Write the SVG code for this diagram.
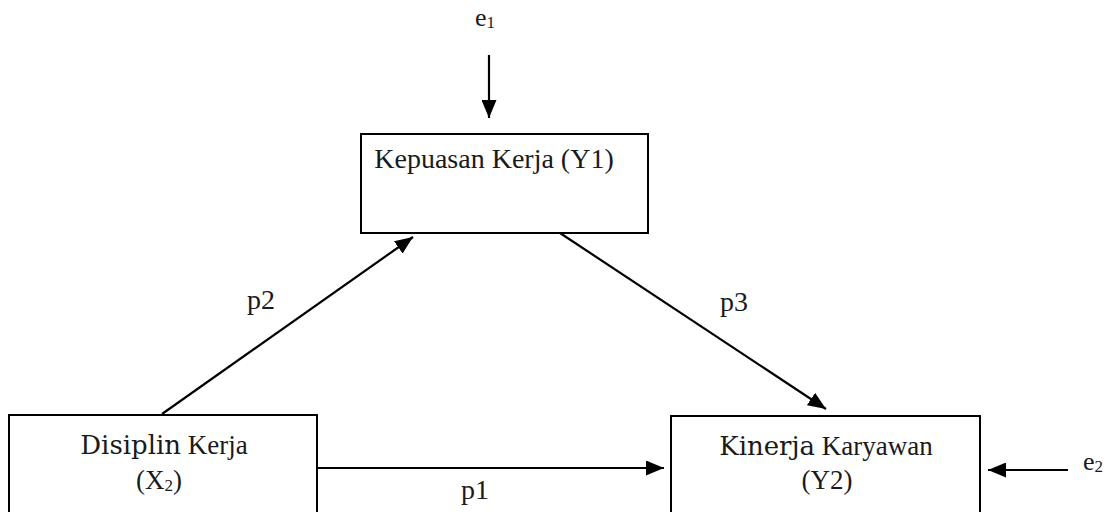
<svg xmlns="http://www.w3.org/2000/svg" width="1108" height="512" viewBox="0 0 1108 512">
<style>
.box{fill:#fff;stroke:#000;stroke-width:2}
.t{font-family:"Liberation Serif","Times New Roman",serif;font-size:27px;fill:#1a1a1a}
.big{font-family:"DejaVu Serif","Liberation Serif",serif;font-size:26px;fill:#1a1a1a}
.lbl{font-family:"Liberation Serif","Times New Roman",serif;font-size:28px;fill:#1a1a1a}
.sub{font-size:17px}
.c{stroke:#000;stroke-width:2.2;fill:none;marker-end:url(#ah)}
</style>
<defs>
<marker id="ah" markerUnits="userSpaceOnUse" markerWidth="18" markerHeight="15" refX="18" refY="7.5" orient="auto">
<path d="M0,0 L18,7.5 L0,15 z" fill="#000"/>
</marker>
</defs>
<g id="connectors">
<line class="c" x1="489" y1="55" x2="489" y2="118"/>
<line class="c" x1="162" y1="414" x2="413" y2="237"/>
<line class="c" x1="560" y1="233" x2="826" y2="409"/>
<line class="c" x1="317" y1="468" x2="664" y2="468"/>
<line class="c" x1="1068" y1="470" x2="988" y2="470"/>
<text class="lbl" x="247" y="309">p2</text>
<text class="lbl" x="720" y="311">p3</text>
<text class="lbl" x="461" y="499">p1</text>
</g>
<g id="e1">
<text class="lbl" x="475" y="26" style="font-size:26px">e<tspan class="sub" dy="2">1</tspan></text>
</g>
<g id="e2">
<text class="lbl" x="1083" y="470" style="font-size:26px">e<tspan class="sub" dy="2">2</tspan></text>
</g>
<g id="kepuasan">
<rect class="box" x="361" y="134" width="287" height="99"/>
<text class="t" x="494" y="168" text-anchor="middle" style="font-size:28px">Kepuasan Kerja (Y1)</text>
</g>
<g id="disiplin">
<rect class="box" x="9" y="415" width="308" height="110"/>
<text x="164" y="454" text-anchor="middle"><tspan class="big">Disiplin</tspan><tspan class="t"> Kerja</tspan></text>
<text class="t" x="159" y="489" text-anchor="middle">(X<tspan class="sub" dy="2">2</tspan><tspan dy="-2">)</tspan></text>
</g>
<g id="kinerja">
<rect class="box" x="671" y="416" width="309" height="110"/>
<text x="826" y="455" text-anchor="middle"><tspan class="big">Kinerja</tspan><tspan class="t"> Karyawan</tspan></text>
<text class="t" x="827" y="489" text-anchor="middle">(Y2)</text>
</g>
</svg>
